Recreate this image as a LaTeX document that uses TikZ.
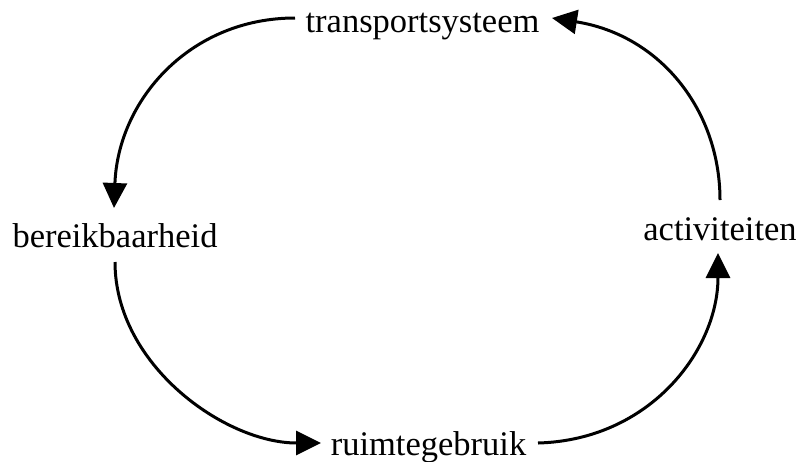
\documentclass[tikz,border=0pt]{standalone}
\usepackage{fontspec}
\setmainfont{Liberation Serif}
\usetikzlibrary{arrows.meta}
\tikzset{
  label text/.style={inner sep=0pt, anchor=base, font=\fontsize{34.5pt}{40pt}\selectfont},
  cycle arrow/.style={line width=3pt, -{Triangle[length=25pt,width=24pt]}}
}
\begin{document}
\begin{tikzpicture}[x=1pt,y=-1pt]
  \useasboundingbox (0,0) rectangle (802,461);

  % the four factors of the cycle
  \node[label text] (trans) at (422.5,32)  {transportsysteem};
  \node[label text] (bereik) at (115,247)  {bereikbaarheid};
  \node[label text] (activ) at (720,240)   {activiteiten};
  \node[label text] (ruimte) at (428.5,455) {ruimtegebruik};

  % end points of the connecting arcs
  \coordinate (trans-out)  at (295,18);
  \coordinate (bereik-in)  at (114,208);
  \coordinate (bereik-out) at (115,262);
  \coordinate (ruimte-in)  at (321,443);
  \coordinate (ruimte-out) at (538,443);
  \coordinate (activ-in)   at (718,253);
  \coordinate (activ-out)  at (720,200);
  \coordinate (trans-in)   at (552,18);

  \draw[cycle arrow] (trans-out)  .. controls (190,18) and (118,100)  .. (bereik-in);
  \draw[cycle arrow] (bereik-out) .. controls (115,365) and (225,443) .. (ruimte-in);
  \draw[cycle arrow] (ruimte-out) .. controls (650,440) and (718,350) .. (activ-in);
  \draw[cycle arrow] (activ-out)  .. controls (720,110) and (660,35)  .. (trans-in);
\end{tikzpicture}
\end{document}
